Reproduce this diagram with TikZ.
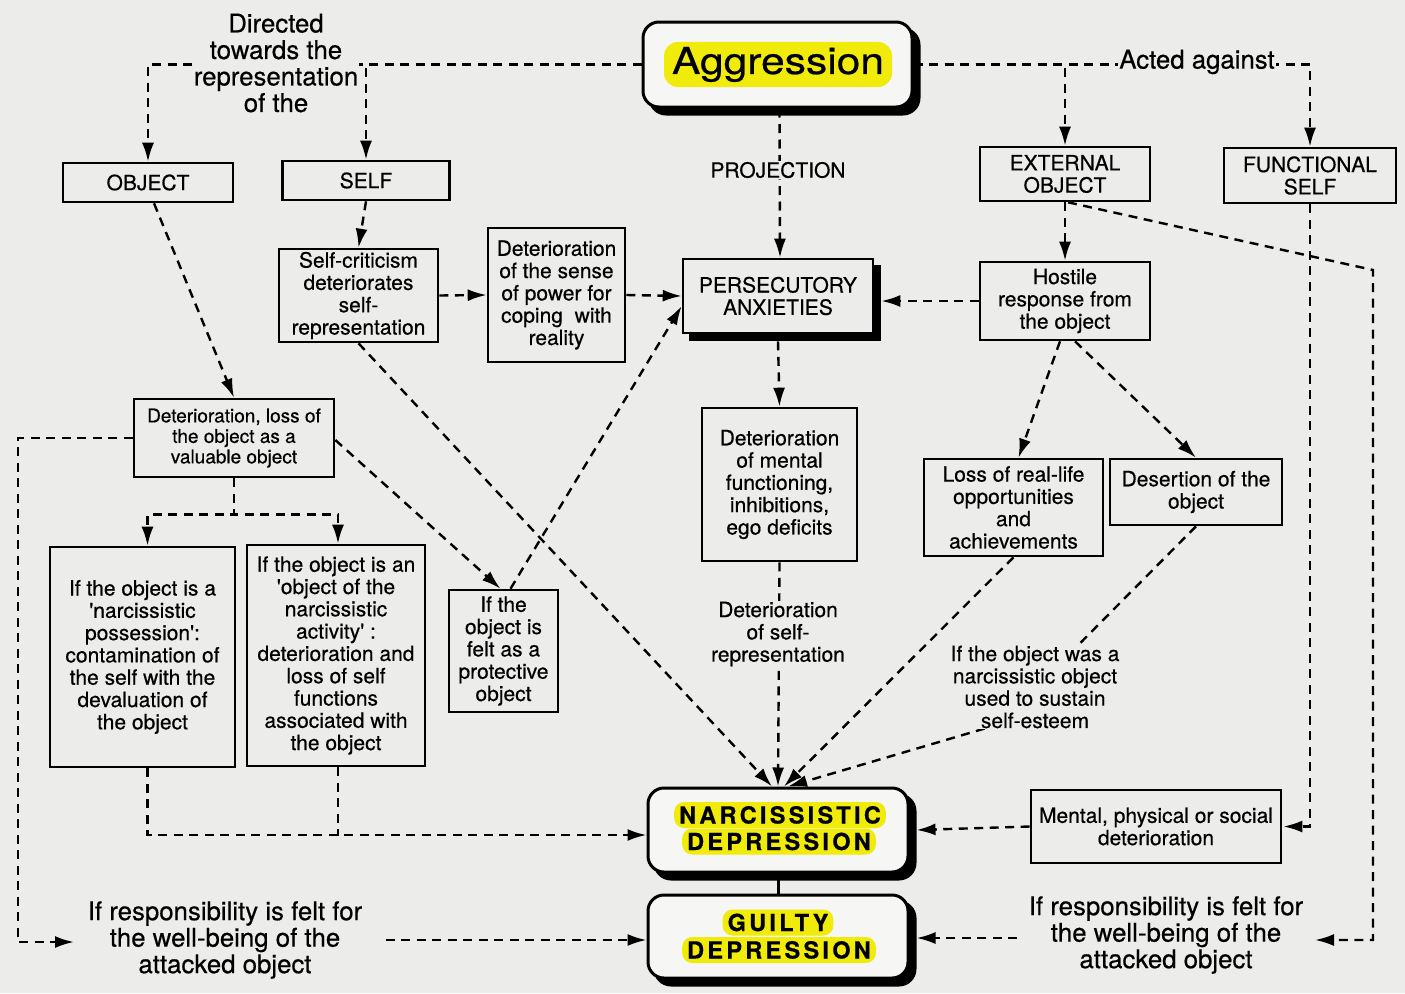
\documentclass[tikz,border=0pt]{standalone}
\usepackage{fontspec}
\usepackage{graphicx}
\setmainfont{TeX Gyre Heros}[FakeBold=0.5]
\usetikzlibrary{arrows.meta,shadows,calc}
\pgfdeclarelayer{back}
\pgfdeclarelayer{lines}
\pgfsetlayers{back,lines,main}
\definecolor{bgc}{RGB}{236,236,234}
\definecolor{boxc}{RGB}{246,246,244}
\definecolor{hl}{RGB}{240,235,10}
\newcommand{\fsBox}{\fontsize{21}{22.3}\selectfont}
\newcommand{\fsSmall}{\fontsize{19}{20.5}\selectfont}
\newcommand{\fsBig}{\fontsize{25.8}{26.5}\selectfont}
\newcommand{\fsHead}{\fontsize{23.5}{26}\selectfont\bfseries\addfontfeature{LetterSpace=14}}
\tikzset{
  bx/.style={draw, line width=2.6pt, fill=bgc, inner sep=2pt, align=center, font=\fsBox},
  sbx/.style={bx, copy shadow={shadow xshift=7pt, shadow yshift=-7pt, fill=black, draw=black}},
  rbx/.style={draw, line width=3pt, fill=boxc, rounded corners=16pt,
    copy shadow={shadow xshift=7pt, shadow yshift=-7pt, fill=black, draw=black, line width=3pt}},
  hlt/.style={fill=hl, rounded corners=10pt, inner xsep=5pt, inner ysep=4.5pt, text height=17pt, text depth=0pt, font=\fsHead},
  lbl/.style={fill=bgc, inner sep=1pt, align=center, font=\fsBox},
  dline/.style={line width=2.4pt, dash pattern=on 9pt off 6.5pt},
  arr/.style={-{Latex[length=19pt,width=12pt]}},
}
\begin{document}
\begin{tikzpicture}[x=1pt,y=-1pt]
\begin{pgfonlayer}{back}
\fill[bgc] (0,0) rectangle (1405,993);
\end{pgfonlayer}
\useasboundingbox (0,0) rectangle (1405,993);

% ---------- nodes ----------
\node[rbx, minimum width=269pt, minimum height=85pt] (agg) at (777.5,64.5) {};
\node[fill=hl, rounded corners=14pt, inner xsep=8pt, inner ysep=5pt] (aggt) at (778,64.5)
  {\fontsize{37}{40}\selectfont\scalebox{1.15}[1]{Aggression}};

\node[lbl, font=\fsBig] (dir) at (276,63) {Directed\\towards the\\representation\\of the};
\node[bx, minimum width=170pt, minimum height=39pt] (obj) at (148,182.5) {OBJECT};
\node[bx, minimum width=167pt, minimum height=39pt] (self) at (366,180.5) {SELF};
\node[bx, minimum width=170pt, minimum height=54pt] (ext) at (1065,174) {EXTERNAL\\OBJECT};
\node[bx, minimum width=172pt, minimum height=55pt] (fself) at (1310,175.5) {FUNCTIONAL\\SELF};

\node[bx, minimum width=159pt, minimum height=93pt] (selfcrit) at (358.5,295.5)
  {Self-criticism\\deteriorates\\self-\\representation};
\node[bx, minimum width=137pt, minimum height=134pt] (detsense) at (556.5,295)
  {Deterioration\\of the sense\\of power for\\coping\ \ with\\reality};
\node[sbx, minimum width=190pt, minimum height=74pt] (pers) at (778,296) {PERSECUTORY\\ANXIETIES};
\node[bx, minimum width=170pt, minimum height=78pt] (hostile) at (1065,301)
  {Hostile\\response from\\the object};

\node[bx, font=\fsSmall, minimum width=200pt, minimum height=78pt] (detloss) at (234,438)
  {Deterioration, loss of\\the object as a\\valuable object};
\node[bx, minimum width=155pt, minimum height=153pt] (detmental) at (779.5,484.5)
  {Deterioration\\of mental\\functioning,\\inhibitions,\\ego deficits};
\node[bx, minimum width=179pt, minimum height=97pt] (loss) at (1013.5,507.5)
  {Loss of real-life\\opportunities\\and\\achievements};
\node[bx, minimum width=172pt, minimum height=66pt] (desert) at (1196,492)
  {Desertion of the\\object};

\node[bx, minimum width=185pt, minimum height=220pt] (box1) at (142.5,657)
  {If the object is a\\\textquotesingle narcissistic\\possession\textquotesingle:\\contamination of\\the self with the\\devaluation of\\the object};
\node[bx, minimum width=178pt, minimum height=221pt] (box2) at (336,655.5)
  {If the object is an\\\textquotesingle object of the\\narcissistic\\activity\textquotesingle\ :\\deterioration and\\loss of self\\functions\\associated with\\the object};
\node[bx, minimum width=109pt, minimum height=122pt] (protect) at (503.5,651)
  {If the\\object is\\felt as a\\protective\\object};

\node[lbl] (proj) at (778,170) {PROJECTION};
\node[lbl] (detself) at (778,634) {Deterioration\\of self-\\representation};
\node[lbl] (wasnarc) at (1035,687) {If the object was a\\narcissistic object\\used to sustain\\self-esteem};
\node[lbl, font=\fsBig] (acted) at (1197,62) {Acted against};

\node[bx, minimum width=250pt, minimum height=73pt] (mental) at (1156,826.5)
  {Mental, physical or social\\deterioration};

\node[rbx, minimum width=260pt, minimum height=84pt] (narc) at (778,830) {};
\node[hlt] (narct1) at (780,815) {NARCISSISTIC};
\node[hlt] (narct2) at (779,841.5) {DEPRESSION};
\node[rbx, minimum width=260pt, minimum height=83pt] (guilty) at (778,936.5) {};
\node[hlt] (guiltyt1) at (778,922.5) {GUILTY};
\node[hlt] (guiltyt2) at (779,950) {DEPRESSION};

\node[align=center, font=\fsBig] (resp1) at (225,940) {If responsibility is felt for\\the well-being of the\\attacked object};
\node[align=center, font=\fsBig] (resp2) at (1166,935) {If responsibility is felt for\\the well-being of the\\attacked object};

\coordinate (lc) at (18,942);
\coordinate (la) at (74,942);
\coordinate (rc1) at (1373,270);
\coordinate (rc2) at (1373,940);
\coordinate (rc3) at (1315,940);
\coordinate (bend1) at (1000,724);

% ---------- connectors ----------
\begin{pgfonlayer}{lines}
\draw[dline,arr] (agg.west) -| (self.north);
\draw[dline,arr] (agg.west) -| (obj.north);
\draw[dline,arr] (agg.east) -| (ext.north);
\draw[dline,arr] (agg.east) -| (fself.north);
\draw[dline,arr] ([xshift=2pt]agg.south) -- ([xshift=2pt]pers.north);

\draw[dline,arr] (self.south) -- (selfcrit.north);
\draw[dline,arr] (selfcrit.east) -- (detsense.west);
\draw[dline,arr] (detsense.east) -- (pers.west);
\draw[dline,arr] (ext.south) -- (hostile.north);
\draw[dline,arr] (hostile.west) -- ([xshift=7pt,yshift=-5pt]pers.east);
\draw[dline,arr] ([xshift=3pt]ext.south) -- (rc1) -- (rc2) -- (rc3);
\draw[dline,arr] (fself.south) |- ([xshift=1pt]mental.east);

\draw[dline,arr] ([yshift=-7pt]pers.south) -- (detmental.north);
\draw[dline,arr] ([xshift=-5pt]hostile.south) -- ([xshift=5pt]loss.north);
\draw[dline,arr] ([xshift=10pt]hostile.south) -- (desert.north);

\draw[dline,arr] ([xshift=6pt]obj.south) -- (detloss.north);
\draw[dline,arr] (detloss.south) -- ++(0,36) -| ([xshift=5pt]box1.north);
\draw[dline,arr] (detloss.south) -- ++(0,36) -| ([xshift=2pt]box2.north);
\draw[dline,arr] (detloss.west) -| (lc) -- (la);
\draw[dline,arr] ([yshift=-2pt]detloss.east) -- ([xshift=-3pt]protect.north);
\draw[dline,arr] ([xshift=7pt]protect.north) -- ([yshift=-10pt]pers.west);

\draw[dline,arr] ([xshift=5pt]box1.south) |- ([yshift=-5pt]narc.west);
\draw[dline] ([xshift=2pt]box2.south) -- ++(0,69);

\draw[dline,arr] (selfcrit.south) -- ([xshift=-6pt]narc.north);
\draw[dline,arr] (detmental.south) -- (narc.north);
\draw[dline,arr] (loss.south) -- ([xshift=6pt]narc.north);
\draw[dline,arr] (desert.south) -- (bend1) -- ([xshift=10pt]narc.north);

\draw[dline,arr] (mental.west) -- ([xshift=7pt]narc.east);
\draw[dline,arr] ([xshift=20pt]resp1.east) -- (resp1.east -| guilty.west);
\draw[dline,arr] ([xshift=-8pt,yshift=-3pt]resp2.west) -- ([xshift=7pt,yshift=-3pt]resp2.west -| guilty.east);
\draw[line width=3pt] (narc.south) -- (guilty.north);
\end{pgfonlayer}
\end{tikzpicture}
\end{document}
